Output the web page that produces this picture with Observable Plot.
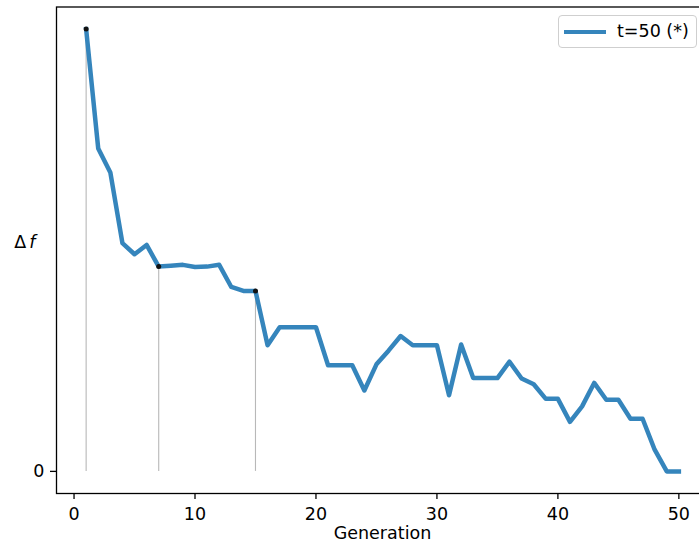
<!DOCTYPE html>
<html>
<head>
<meta charset="utf-8">
<script src="https://cdn.jsdelivr.net/npm/d3@7"></script>
<script src="https://cdn.jsdelivr.net/npm/@observablehq/plot@0.6"></script>
<style>
  html, body { margin: 0; padding: 0; background: #fff; overflow: hidden; }
  #wrap { position: relative; width: 699px; height: 550px; overflow: hidden; }
  #wrap svg { max-width: none !important; width: 708px; height: 550px; display: block; }
  .legend {
    position: absolute; left: 558px; top: 15px; width: 137px; height: 31px;
    border: 1px solid #cfcfcf; border-radius: 4px; background: rgba(255,255,255,0.85);
    font-family: "DejaVu Sans", sans-serif; font-size: 17.5px; color: #000;
  }
  .legend .swatch { position: absolute; left: 5px; top: 13.5px; width: 42px; height: 4.4px; background: #3585bc; }
  .legend .lab { position: absolute; left: 58px; top: 4px; line-height: 22px; white-space: nowrap; }
</style>
</head>
<body>
<div id="wrap"></div>
<script>
// Generation index (x) and the measured Δf per generation (y)
const generations = [1, 2, 3, 4, 5, 6, 7, 8, 9, 10, 11, 12, 13, 14, 15, 16, 17, 18, 19, 20,
  21, 22, 23, 24, 25, 26, 27, 28, 29, 30, 31, 32, 33, 34, 35, 36, 37, 38, 39, 40,
  41, 42, 43, 44, 45, 46, 47, 48, 49, 50];
const deltaF = [1.000, 0.730, 0.676, 0.516, 0.491, 0.512, 0.463, 0.465, 0.467, 0.462,
  0.463, 0.467, 0.417, 0.408, 0.408, 0.285, 0.326, 0.326, 0.326, 0.326,
  0.240, 0.240, 0.240, 0.183, 0.242, 0.273, 0.306, 0.285, 0.285, 0.285,
  0.172, 0.287, 0.211, 0.211, 0.211, 0.248, 0.210, 0.197, 0.164, 0.164,
  0.112, 0.147, 0.200, 0.162, 0.162, 0.119, 0.119, 0.049, 0.000, 0.000];
// Generations flagged with a marker and a drop line
const markedGenerations = [1, 7, 15];
const xTicks = [0, 10, 20, 30, 40, 50];
const yTicks = [0];
const seriesLabel = "t=50 (*)";

const rows = generations.map((g, i) => ({gen: g, df: deltaF[i]}));
const marked = rows.filter(d => markedGenerations.includes(d.gen));

const font = "DejaVu Sans, sans-serif";
const chart = Plot.plot({
  width: 708,
  height: 550,
  marginLeft: 56,
  marginRight: 0,
  marginTop: 6.5,
  marginBottom: 57,
  style: {fontFamily: font, fontSize: "17.5px", color: "#000", background: "#fff", maxWidth: "none"},
  x: {domain: [-1.45, 52.45]},
  y: {domain: [-0.05, 1.05]},
  marks: [
    Plot.ruleX(marked, {x: "gen", y1: 0, y2: "df", stroke: "#b8b8b8", strokeWidth: 1.1}),
    Plot.line(rows, {x: "gen", y: "df", stroke: "#3585bc", strokeWidth: 4.5,
      strokeLinejoin: "round", strokeLinecap: "square"}),
    Plot.dot(marked, {x: "gen", y: "df", r: 2.5, fill: "#111", stroke: "none"}),
    Plot.frame({stroke: "#000", strokeWidth: 1.3}),
    Plot.axisX({ticks: xTicks, tickSize: 6, tickPadding: 8, label: null, strokeWidth: 1.3,
      fontSize: 17.5, tickFormat: d3.format("d")}),
    Plot.axisY({ticks: yTicks, tickSize: 6, tickPadding: 6, label: null, strokeWidth: 1.3,
      fontSize: 17.5, tickFormat: d3.format("d")}),
    Plot.text(["Generation"], {frameAnchor: "bottom", dy: 45, text: d => d, fontSize: 17.5}),
    Plot.text(["Δf"], {frameAnchor: "left", dx: -21, dy: -8, text: d => d, textAnchor: "end",
      fontSize: 17.5, className: "ylab"})
  ]
});

// italic f in the y-axis label
d3.select(chart).selectAll("g.ylab text").each(function() {
  const t = d3.select(this);
  t.text(null);
  t.append("tspan").text("Δ");
  t.append("tspan").attr("dx", "3").attr("font-style", "italic").text("f");
});

const wrap = document.getElementById("wrap");
wrap.appendChild(chart);

const legend = document.createElement("div");
legend.className = "legend";
legend.innerHTML = `<div class="swatch"></div><div class="lab"></div>`;
legend.querySelector(".lab").textContent = seriesLabel;
wrap.appendChild(legend);
</script>
</body>
</html>
